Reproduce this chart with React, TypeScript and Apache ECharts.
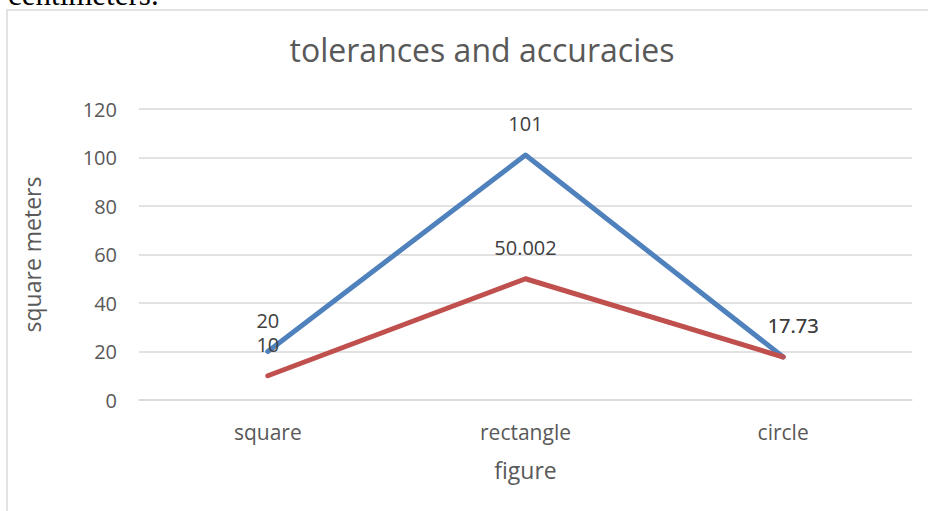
import React, { useEffect, useRef } from "react";
import * as echarts from "echarts";

const categories = ["square", "rectangle", "circle"];
const seriesA = [20, 101, 17.73];
const seriesB = [10, 50.002, 17.73];
const yTicks = { min: 0, max: 120, interval: 20 };

const FONT = "'Open Sans', 'Liberation Sans', sans-serif";

export default function App() {
  const ref = useRef<HTMLDivElement>(null);
  useEffect(() => {
    document.body.style.margin = "0";
    const chart = echarts.init(ref.current!, null, { renderer: "svg" });
    const labelStyle = {
      show: true,
      position: "top" as const,
      distance: 21,
      fontSize: 20,
      fontFamily: FONT,
      color: "#404040",
    };
    const withLastOffset = (vals: number[]) =>
      vals.map((v, i) =>
        i === vals.length - 1 ? { value: v, label: { offset: [10, 0] } } : v
      );
    chart.setOption({
      animation: false,
      backgroundColor: "#ffffff",
      title: {
        text: "tolerances and accuracies",
        left: 477,
        top: 28,
        textAlign: "center",
        textStyle: { fontFamily: FONT, fontSize: 32, fontWeight: "normal", color: "#595959" },
      },
      graphic: [
        {
          type: "rect",
          shape: { x: 7, y: 10, width: 940, height: 520 },
          style: { fill: "none", stroke: "#d9d9d9", lineWidth: 1.5 },
          silent: true,
        },
        {
          type: "text",
          x: 8,
          y: 10,
          style: {
            text: "centimeters.",
            fontSize: 31,
            fontFamily: "'Liberation Serif', 'DejaVu Serif', serif",
            fill: "#000000",
            verticalAlign: "bottom",
            align: "left",
          },
        },
      ],
      grid: { left: 139, right: 16, top: 109, bottom: 111, containLabel: false },
      xAxis: {
        type: "category",
        data: categories,
        boundaryGap: true,
        name: "figure",
        nameLocation: "middle",
        nameGap: 58,
        nameTextStyle: { fontFamily: FONT, fontSize: 23, color: "#595959" },
        axisLine: { show: true, lineStyle: { color: "#d9d9d9", width: 1.5 } },
        axisTick: { show: false },
        axisLabel: { fontFamily: FONT, fontSize: 21, color: "#595959", margin: 21 },
      },
      yAxis: {
        type: "value",
        min: yTicks.min,
        max: yTicks.max,
        interval: yTicks.interval,
        name: "square meters",
        nameLocation: "middle",
        nameGap: 96,
        nameTextStyle: { fontFamily: FONT, fontSize: 23, color: "#595959" },
        axisLine: { show: false },
        axisTick: { show: false },
        axisLabel: { fontFamily: FONT, fontSize: 20, color: "#595959", margin: 22 },
        splitLine: { lineStyle: { color: "#d9d9d9", width: 1.5 } },
      },
      series: [
        {
          type: "line",
          data: withLastOffset(seriesA),
          showSymbol: true,
          symbol: "circle",
          symbolSize: 1,
          lineStyle: { color: "#4f81bd", width: 5, cap: "round", join: "round" },
          itemStyle: { color: "#4f81bd" },
          label: labelStyle,
        },
        {
          type: "line",
          data: withLastOffset(seriesB),
          showSymbol: true,
          symbol: "circle",
          symbolSize: 1,
          lineStyle: { color: "#c0504d", width: 5, cap: "round", join: "round" },
          itemStyle: { color: "#c0504d" },
          label: labelStyle,
        },
      ],
    });
    return () => chart.dispose();
  }, []);
  return (
    <div
      ref={ref}
      style={{ position: "absolute", left: 0, top: 0, width: 928, height: 511 }}
    />
  );
}
